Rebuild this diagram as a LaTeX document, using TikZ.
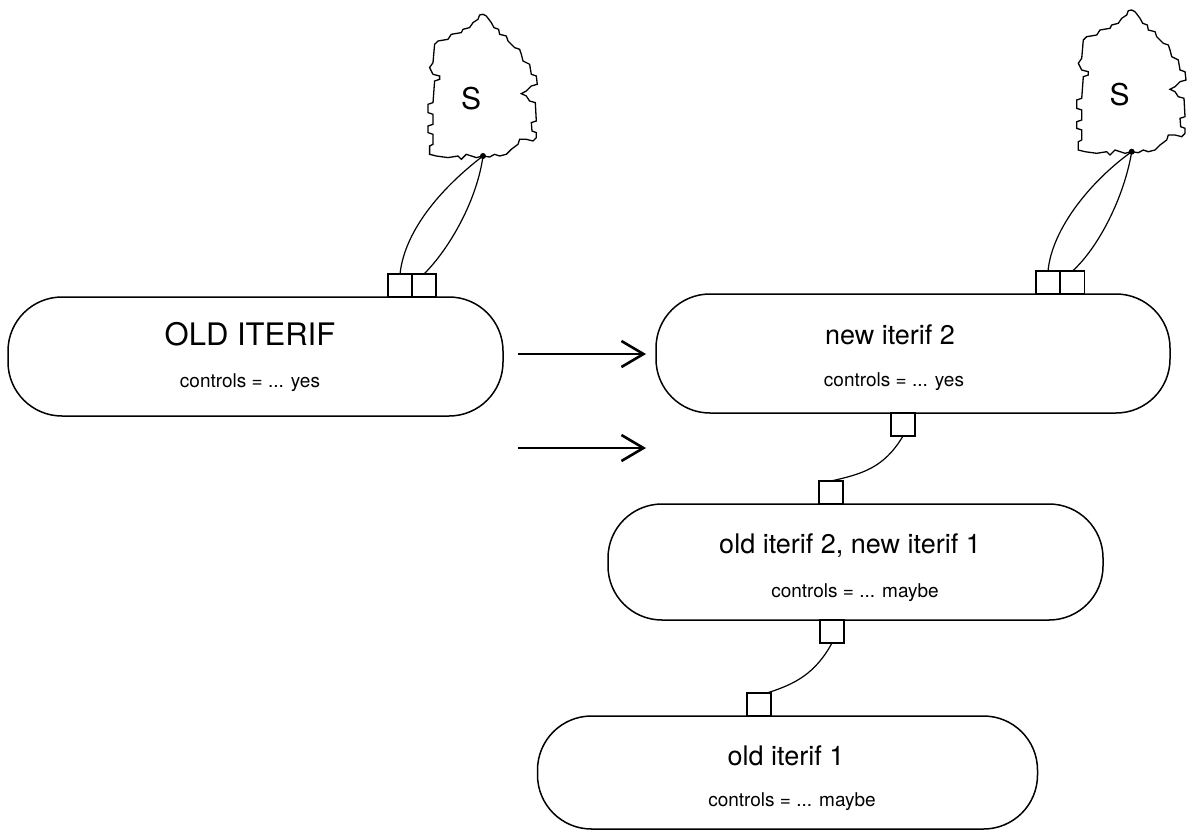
\documentclass[tikz,border=0pt]{standalone}
\usepackage{fontspec}
\setmainfont{TeX Gyre Heros}
\usetikzlibrary{arrows.meta}
\tikzset{
  pill/.style={draw, line width=1.5pt, rounded corners=54pt, inner sep=0pt, outer sep=0pt},
  port/.style={draw, line width=1.3pt, minimum width=24pt, minimum height=23pt, inner sep=0pt, outer sep=0pt},
  bigtitle/.style={anchor=base, inner sep=0pt, font=\fontsize{31}{34}\selectfont},
  title/.style={anchor=base, inner sep=0pt, font=\fontsize{27}{30}\selectfont},
  sub/.style={anchor=base, inner sep=0pt, font=\fontsize{19}{23}\selectfont},
  wire/.style={line width=1.2pt},
  shiftarrow/.style={line width=1.5pt, -{Straight Barb[length=22pt,width=26pt,line width=2.6pt]}},
  glyph/.style={inner sep=0pt, font=\fontsize{30}{34}\selectfont},
  cloudline/.style={line width=1.3pt, line join=miter},
  cloud/.pic={
    \draw[cloudline] (0,-141.7) -- (3.3,-140) -- (8.3,-133.4) -- (11,-128.4) -- (15.6,-126.7)
      -- (16.6,-121.7) -- (23.3,-120) -- (25,-115) -- (28.3,-111.7) -- (31.6,-108.4)
      -- (36.6,-106.7) -- (38.3,-101.7) -- (40,-95) -- (46.6,-91.7) -- (48.3,-81.7)
      -- (53.3,-80) -- (54.3,-71.7) -- (48.3,-70) -- (43.3,-65) -- (38.3,-62.4)
      -- (43.3,-60) -- (46.6,-55) -- (52.3,-53.4) -- (53.3,-35) -- (48.3,-33.4)
      -- (49,-25) -- (53.3,-23.4) -- (53.3,-18.4) -- (50,-15) -- (43.3,-16.7)
      -- (36.6,-16.7) -- (35,-11.7) -- (28.3,-6.7) -- (23.3,-1.7) -- (16.6,0)
      -- (11.6,-1.7) -- (6.6,1) -- (0,0) -- (-6.7,1.6) -- (-16.7,-1.7)
      -- (-21.7,3.3) -- (-25,0) -- (-35,1.6) -- (-46.7,0) -- (-53.4,-1.7)
      -- (-53.4,-10) -- (-50,-11.7) -- (-50,-21.7) -- (-55,-23.4) -- (-55,-30)
      -- (-50,-31.7) -- (-50,-41.7) -- (-55,-43.4) -- (-55,-51.7) -- (-50,-53.4)
      -- (-48.4,-75) -- (-43.4,-76.7) -- (-43.4,-80) -- (-50,-81.7) -- (-53.4,-88.4)
      -- (-50,-93.4) -- (-48.4,-111.7) -- (-45,-115) -- (-35,-116.7) -- (-31.7,-121.7)
      -- (-21.7,-123.4) -- (-20,-126.7) -- (-13.4,-128.4) -- (-10,-133.4) -- (-5,-136.7)
      -- (-3.4,-141) -- cycle;
    \node[glyph] (-S) at (-12,-57) {S};
    \fill (0,0) circle (3);
  }
}
\begin{document}
\begin{tikzpicture}[x=1pt,y=-1pt]
  \useasboundingbox (0,0) rectangle (1196,833);

  % the four iterif boxes
  \node[pill, minimum width=495pt, minimum height=119pt] (oldbox) at (255.5,356.5) {};
  \node[pill, minimum width=514pt, minimum height=119pt] (newtwo) at (913,353.5) {};
  \node[pill, minimum width=495pt, minimum height=116pt] (mixbox) at (855.5,562) {};
  \node[pill, minimum width=500pt, minimum height=113pt] (oldone) at (787.5,772.5) {};

  % their labels
  \node[bigtitle] (oldboxT) at (250,345) {OLD ITERIF};
  \node[sub] (oldboxS) at (250,387) {controls = ... yes};
  \node[title] (newtwoT) at (890,344) {new iterif 2};
  \node[sub] (newtwoS) at (894,386) {controls = ... yes};
  \node[title] (mixboxT) at (850,553) {old iterif 2, new iterif 1};
  \node[sub] (mixboxS) at (855,597) {controls = ... maybe};
  \node[title] (oldoneT) at (786,765) {old iterif 1};
  \node[sub] (oldoneS) at (792,806) {controls = ... maybe};

  % ports on the boxes
  \node[port, anchor=south west] (oldp1) at (388,297) {};
  \node[port, anchor=south west] (oldp2) at (412,297) {};
  \node[port, anchor=south west] (newp1) at (1036,294) {};
  \node[port, anchor=south west] (newp2) at (1060.5,294) {};
  \node[port, anchor=north west] (newq)  at (891,413) {};
  \node[port, anchor=south west] (midp)  at (819,504) {};
  \node[port, anchor=north west] (midq)  at (820,620) {};
  \node[port, anchor=south west] (lowp)  at (747,716) {};

  % the two S regions and their attachment points
  \pic (lcloud) at (483,156) {cloud};
  \pic (rcloud) at (1131.7,151.7) {cloud};
  \coordinate (ldot) at (483,156);
  \coordinate (rdot) at (1131.7,151.7);

  % wires from S to the ports
  \draw[wire] (ldot) .. controls (445,185) and (405,228) .. (oldp1.north);
  \draw[wire] (ldot) .. controls (477,200) and (450,248) .. (oldp2.north);
  \draw[wire] (rdot) .. controls (1092,180) and (1052,228) .. (newp1.north);
  \draw[wire] (rdot) .. controls (1124,198) and (1098,248) .. (newp2.north);

  % wires between the chained boxes
  \draw[wire] (newq.south) .. controls (884,468) and (862,474) .. (midp.north);
  \draw[wire] (midq.south) .. controls (815,674) and (795,684) .. ([xshift=8pt]lowp.north);

  % transformation arrows
  \coordinate (m1a) at (518,354);
  \coordinate (m1b) at (646,354);
  \coordinate (m2a) at (518,448);
  \coordinate (m2b) at (646,448);
  \draw[shiftarrow] (m1a) -- (m1b);
  \draw[shiftarrow] (m2a) -- (m2b);
\end{tikzpicture}
\end{document}
